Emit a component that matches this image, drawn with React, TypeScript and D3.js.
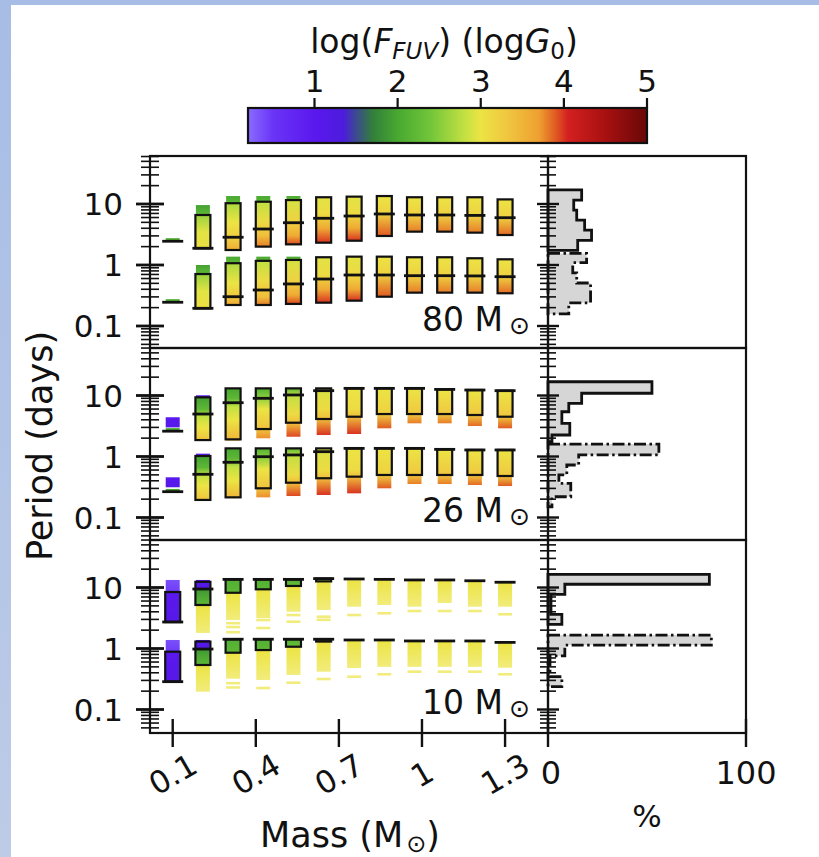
import React from 'react';
import * as d3 from 'd3';

// [period, log F_FUV, opacity?]
type Stop = [number, number, number?];
// [strip top, strip bottom, box top, box bottom, median, colour stops]
type Column = [number, number, number | null, number | null, number, Stop[]];
// [mass index, period, log F_FUV, opacity]
type Extra = [number, number, number, number];

const MASSES = [0.1, 0.209, 0.318, 0.427, 0.536, 0.645, 0.755, 0.864, 0.973, 1.082, 1.191, 1.3];
const MASS_TICKS = [0.1, 0.4, 0.7, 1, 1.3];
const MASS_TICK_LABELS = ['0.1', '0.4', '0.7', '1', '1.3'];
const PCT_TICKS = [0, 100];
const CBAR_TICKS = [1, 2, 3, 4, 5];
const PERIOD_TICKS = [0.1, 1, 10];
const PERIOD_TICK_LABELS = ['0.1', '1', '10'];
const CLUSTER_MASSES = ['80', '26', '10'];

// colour map of log F_FUV (log G0)
const CMAP_VALUES = [0.2, 0.5, 1.0, 1.35, 1.5, 1.7, 2.0, 2.4, 2.8, 3.0, 3.3, 3.7, 3.9, 4.05, 4.5, 5.0];
const CMAP_COLORS = ['#8a6cff', '#6a34f6', '#5a18ee', '#4c1cdc', '#3c4a90', '#327f3a', '#48a830', '#72c63a',
  '#c2e042', '#ece444', '#f0c840', '#eea030', '#e05a22', '#d42020', '#a81010', '#680808'];

// 80 Msun cluster
const COLS_80_LONG: Column[] = [
  [2.75, 2.45, null, null, 2.45, [[2.75, 2.0], [2.45, 2.2]]],
  [9.6, 1.88, 6.6, 1.88, 1.88, [[9.6, 1.95], [6.9, 2.2], [6.5, 2.6], [3.5, 2.95], [1.88, 3.05]]],
  [13.5, 1.72, 10.3, 1.76, 2.85, [[13.5, 2.0], [10.5, 2.2], [10.0, 2.7], [5.0, 3.0], [2.5, 3.3], [1.72, 3.6]]],
  [13.5, 1.97, 10.9, 2.0, 3.89, [[13.5, 2.0], [11.0, 2.2], [10.5, 2.8], [5.0, 3.1], [3.0, 3.4], [1.97, 3.8]]],
  [13.5, 2.13, 11.6, 2.18, 4.93, [[13.5, 2.0], [11.8, 2.2], [11.3, 2.9], [5.0, 3.2], [3.0, 3.6], [2.13, 3.95]]],
  [12.9, 2.32, 12.9, 2.32, 5.83, [[12.9, 2.95], [7.0, 3.1], [4.0, 3.6], [2.32, 4.0]]],
  [13.2, 2.5, 13.2, 2.5, 6.35, [[13.2, 2.95], [7.0, 3.1], [4.0, 3.6], [2.5, 4.0]]],
  [13.5, 2.99, 13.5, 2.99, 6.86, [[13.5, 3.0], [7.0, 3.2], [2.99, 3.9]]],
  [12.9, 3.52, 12.9, 3.52, 6.6, [[12.9, 3.0], [6.6, 3.2], [3.52, 3.8]]],
  [12.9, 3.52, 12.9, 3.52, 6.6, [[12.9, 3.0], [6.6, 3.2], [3.52, 3.8]]],
  [12.9, 3.39, 12.9, 3.39, 6.5, [[12.9, 3.0], [6.5, 3.2], [3.39, 3.8]]],
  [11.9, 3.1, 11.9, 3.1, 5.96, [[11.9, 3.0], [6.0, 3.2], [3.1, 3.85]]],
];
const COLS_80_SHORT: Column[] = [
  [0.275, 0.245, null, null, 0.245, [[0.275, 2.0], [0.245, 2.2]]],
  [1.0, 0.195, 0.711, 0.195, 0.195, [[1.0, 1.95], [0.74, 2.2], [0.7, 2.6], [0.37, 2.95], [0.195, 3.05]]],
  [1.37, 0.221, 1.07, 0.221, 0.302, [[1.37, 2.0], [1.09, 2.2], [1.04, 2.7], [0.5, 3.0], [0.3, 3.3], [0.221, 3.6]]],
  [1.37, 0.221, 1.17, 0.221, 0.389, [[1.37, 2.0], [1.18, 2.2], [1.13, 2.8], [0.55, 3.1], [0.3, 3.4], [0.221, 3.8]]],
  [1.37, 0.23, 1.21, 0.23, 0.489, [[1.37, 2.0], [1.23, 2.2], [1.17, 2.9], [0.55, 3.2], [0.32, 3.6], [0.23, 3.95]]],
  [1.34, 0.241, 1.34, 0.241, 0.589, [[1.34, 2.95], [0.7, 3.1], [0.4, 3.6], [0.241, 4.0]]],
  [1.37, 0.26, 1.37, 0.26, 0.685, [[1.37, 2.95], [0.7, 3.1], [0.4, 3.6], [0.26, 4.0]]],
  [1.37, 0.302, 1.37, 0.302, 0.685, [[1.37, 3.0], [0.7, 3.2], [0.302, 3.9]]],
  [1.34, 0.352, 1.34, 0.352, 0.668, [[1.34, 3.0], [0.67, 3.2], [0.352, 3.8]]],
  [1.34, 0.352, 1.34, 0.352, 0.668, [[1.34, 3.0], [0.67, 3.2], [0.352, 3.8]]],
  [1.29, 0.352, 1.29, 0.352, 0.662, [[1.29, 3.0], [0.66, 3.2], [0.352, 3.8]]],
  [1.24, 0.344, 1.24, 0.344, 0.643, [[1.24, 3.0], [0.64, 3.2], [0.344, 3.85]]],
];
const EXTRA_80: Extra[] = [];

// 26 Msun cluster
const COLS_26_LONG: Column[] = [
  [4.4, 3.0, null, null, 2.6, [[4.4, 1.0], [3.0, 1.1]]],
  [9.33, 1.86, 9.33, 1.86, 4.97, [[9.33, 1.95], [6.0, 2.2], [4.5, 2.8], [3.0, 3.0], [1.86, 3.35]]],
  [13.1, 1.82, 13.1, 1.91, 7.62, [[13.1, 2.0], [9.0, 2.2], [6.5, 2.8], [4.0, 3.0], [1.82, 3.5]]],
  [13.1, 1.99, 13.1, 2.82, 9.0, [[13.1, 2.1], [9.5, 2.5], [6.0, 3.0], [2.8, 3.35], [1.99, 3.75]]],
  [13.1, 2.11, 13.1, 3.58, 10.2, [[13.1, 2.2], [10.0, 2.8], [5.0, 3.1], [3.5, 3.4], [2.11, 3.95]]],
  [13.1, 2.25, 13.1, 4.12, 12.0, [[13.1, 2.9], [6.0, 3.1], [4.1, 3.4], [2.25, 4.0]]],
  [13.1, 2.34, 13.1, 4.49, 13.1, [[13.1, 3.0], [6.0, 3.1], [4.5, 3.4], [2.34, 4.0]]],
  [13.1, 2.9, 13.1, 4.97, 13.1, [[13.1, 3.0], [5.0, 3.2], [2.9, 3.9]]],
  [13.1, 3.5, 13.1, 4.97, 13.1, [[13.1, 3.0], [5.0, 3.3], [3.5, 3.8]]],
  [12.6, 3.5, 12.6, 4.97, 12.6, [[12.6, 3.0], [5.0, 3.3], [3.5, 3.8]]],
  [12.3, 3.16, 12.3, 4.79, 12.3, [[12.3, 3.0], [4.8, 3.3], [3.16, 3.85]]],
  [12.0, 2.9, 12.0, 4.49, 12.0, [[12.0, 3.0], [4.5, 3.3], [2.9, 3.9]]],
];
const COLS_26_SHORT: Column[] = [
  [0.456, 0.313, null, null, 0.265, [[0.456, 1.0], [0.313, 1.1]]],
  [1.02, 0.194, 1.02, 0.194, 0.511, [[1.02, 1.95], [0.66, 2.2], [0.5, 2.8], [0.33, 3.0], [0.194, 3.35]]],
  [1.36, 0.208, 1.36, 0.214, 0.804, [[1.36, 2.0], [0.93, 2.2], [0.68, 2.8], [0.4, 3.0], [0.208, 3.5]]],
  [1.36, 0.214, 1.36, 0.301, 0.993, [[1.36, 2.1], [0.98, 2.5], [0.62, 3.0], [0.3, 3.35], [0.214, 3.75]]],
  [1.36, 0.225, 1.36, 0.372, 1.06, [[1.36, 2.2], [1.03, 2.8], [0.5, 3.1], [0.37, 3.4], [0.225, 3.95]]],
  [1.36, 0.234, 1.36, 0.44, 1.2, [[1.36, 2.9], [0.6, 3.1], [0.44, 3.4], [0.234, 4.0]]],
  [1.36, 0.249, 1.36, 0.467, 1.36, [[1.36, 3.0], [0.6, 3.1], [0.467, 3.4], [0.249, 4.0]]],
  [1.36, 0.301, 1.36, 0.498, 1.36, [[1.36, 3.0], [0.5, 3.2], [0.301, 3.9]]],
  [1.36, 0.354, 1.36, 0.498, 1.36, [[1.36, 3.0], [0.5, 3.3], [0.354, 3.8]]],
  [1.31, 0.354, 1.31, 0.498, 1.31, [[1.31, 3.0], [0.5, 3.3], [0.354, 3.8]]],
  [1.28, 0.341, 1.28, 0.498, 1.28, [[1.28, 3.0], [0.5, 3.3], [0.341, 3.85]]],
  [1.28, 0.328, 1.28, 0.479, 1.28, [[1.28, 3.0], [0.48, 3.3], [0.328, 3.9]]],
];
const EXTRA_26: Extra[] = [
  [0, 2.78, 2.0, 1], [0, 0.28, 2.0, 1], [1, 9.6, 1.0, 1], [1, 1.06, 1.0, 1],
];

// 10 Msun cluster
const COLS_10_LONG: Column[] = [
  [13.3, 2.72, 8.44, 2.72, 2.72, [[13.3, 0.35], [8.6, 0.45], [8.2, 1.0], [2.72, 1.1]]],
  [13.3, 1.8, 12.4, 5.17, 9.45, [[13.3, 1.0], [10.0, 1.2], [9.0, 1.9], [5.3, 2.2], [4.9, 3.0], [1.8, 3.0, 0.7]]],
  [13.6, 2.93, 13.6, 8.2, 13.6, [[13.6, 2.1], [8.3, 2.2], [7.9, 3.0], [2.93, 3.0, 0.7]]],
  [13.6, 3.16, 13.6, 9.34, 13.6, [[13.6, 2.1], [9.4, 2.2], [9.0, 3.0], [3.16, 3.0, 0.7]]],
  [13.6, 4.01, 13.6, 10.6, 13.6, [[13.6, 2.1], [10.6, 2.3], [10.2, 3.0], [4.01, 3.0, 0.7]]],
  [14.0, 4.28, 14.0, 12.6, 14.0, [[14.0, 2.4], [12.6, 2.6], [12.2, 3.0], [4.28, 3.0, 0.7]]],
  [13.2, 4.84, null, null, 13.8, [[13.2, 3.0], [4.84, 3.0, 0.7]]],
  [13.2, 5.17, null, null, 13.6, [[13.2, 3.0], [5.17, 3.0, 0.7]]],
  [13.0, 4.84, null, null, 13.3, [[13.0, 3.0], [4.84, 3.0, 0.7]]],
  [13.0, 5.57, null, null, 13.3, [[13.0, 3.0], [5.57, 3.0, 0.7]]],
  [12.6, 4.84, null, null, 12.9, [[12.6, 3.0], [4.84, 3.0, 0.7]]],
  [12.0, 4.84, null, null, 12.2, [[12.0, 3.0], [4.84, 3.0, 0.7]]],
];
const COLS_10_SHORT: Column[] = [
  [1.38, 0.286, 0.887, 0.286, 0.286, [[1.38, 0.35], [0.92, 0.45], [0.87, 1.0], [0.286, 1.1]]],
  [1.38, 0.196, 1.3, 0.537, 0.98, [[1.38, 1.0], [1.03, 1.2], [0.95, 1.9], [0.55, 2.2], [0.51, 3.0], [0.196, 3.0, 0.7]]],
  [1.42, 0.32, 1.42, 0.853, 1.42, [[1.42, 2.1], [0.87, 2.2], [0.83, 3.0], [0.32, 3.0, 0.7]]],
  [1.42, 0.305, 1.42, 0.944, 1.42, [[1.42, 2.1], [0.96, 2.2], [0.92, 3.0], [0.305, 3.0, 0.7]]],
  [1.42, 0.368, 1.42, 1.07, 1.42, [[1.42, 2.1], [1.08, 2.3], [1.04, 3.0], [0.368, 3.0, 0.7]]],
  [1.42, 0.417, 1.42, 1.3, 1.42, [[1.42, 2.4], [1.3, 2.6], [1.26, 3.0], [0.417, 3.0, 0.7]]],
  [1.35, 0.479, null, null, 1.38, [[1.35, 3.0], [0.479, 3.0, 0.7]]],
  [1.35, 0.5, null, null, 1.38, [[1.35, 3.0], [0.5, 3.0, 0.7]]],
  [1.3, 0.5, null, null, 1.33, [[1.3, 3.0], [0.5, 3.0, 0.7]]],
  [1.3, 0.5, null, null, 1.33, [[1.3, 3.0], [0.5, 3.0, 0.7]]],
  [1.3, 0.5, null, null, 1.33, [[1.3, 3.0], [0.5, 3.0, 0.7]]],
  [1.24, 0.484, null, null, 1.26, [[1.24, 3.0], [0.484, 3.0, 0.7]]],
];
const EXTRA_10: Extra[] = [
  [2, 2.6, 3.0, 0.7], [2, 2.25, 3.0, 0.7], [2, 1.85, 3.0, 0.7], [3, 2.93, 3.0, 0.7], [3, 2.17, 3.0, 0.7],
  [4, 3.54, 3.0, 0.7], [4, 2.75, 3.0, 0.7], [5, 3.32, 3.0, 0.7], [5, 2.95, 3.0, 0.7], [6, 3.54, 3.0, 0.7],
  [7, 3.78, 3.0, 0.7], [8, 4.12, 3.0, 0.7], [9, 4.12, 3.0, 0.7], [10, 4.12, 3.0, 0.7], [11, 3.64, 3.0, 0.7],
  [2, 0.27, 3.0, 0.7], [2, 0.23, 3.0, 0.7], [3, 0.225, 3.0, 0.7], [4, 0.275, 3.0, 0.7], [5, 0.316, 3.0, 0.7],
  [6, 0.345, 3.0, 0.7], [7, 0.378, 3.0, 0.7], [8, 0.417, 3.0, 0.7], [9, 0.417, 3.0, 0.7], [10, 0.417, 3.0, 0.7],
  [11, 0.378, 3.0, 0.7],
];

// period histograms: bin edges (days) and share of stars (%)
const H80_LONG_EDGES = [17.0, 11.6, 7.94, 5.43, 3.72, 2.54, 1.74];
const H80_LONG_PCT = [17, 13, 14.5, 18.5, 22, 15];
const H80_SHORT_EDGES = [1.55, 1.09, 0.741, 0.507, 0.347, 0.24, 0.158];
const H80_SHORT_PCT = [19.5, 12.5, 14.5, 21.5, 21.5, 10.5];
const H26_LONG_EDGES = [16.8, 10.9, 7.45, 5.42, 3.5, 2.25, 1.75];
const H26_LONG_PCT = [52.5, 17, 10.5, 7, 11, 2];
const H26_SHORT_EDGES = [1.6, 1.06, 0.726, 0.498, 0.363, 0.219, 0.15];
const H26_SHORT_PCT = [56, 15.5, 9.5, 5.5, 11.5, 2];
const H10_LONG_EDGES = [16.4, 11.3, 7.74, 5.31, 3.64, 2.49];
const H10_LONG_PCT = [81.5, 8.5, 1.5, 1.5, 7];
const H10_SHORT_EDGES = [1.66, 1.14, 0.759, 0.513, 0.347, 0.237];
const H10_SHORT_PCT = [82.5, 8.5, 1, 1, 7];

// period axis limits per panel (days)
const YLIMS: [number, number][] = [[0.04358, 61.2], [0.04277, 60.1], [0.0412, 60.1]];

const PANELS = [
  { name: CLUSTER_MASSES[0], long: COLS_80_LONG, short: COLS_80_SHORT, extra: EXTRA_80,
    hl: [H80_LONG_EDGES, H80_LONG_PCT], hs: [H80_SHORT_EDGES, H80_SHORT_PCT] },
  { name: CLUSTER_MASSES[1], long: COLS_26_LONG, short: COLS_26_SHORT, extra: EXTRA_26,
    hl: [H26_LONG_EDGES, H26_LONG_PCT], hs: [H26_SHORT_EDGES, H26_SHORT_PCT] },
  { name: CLUSTER_MASSES[2], long: COLS_10_LONG, short: COLS_10_SHORT, extra: EXTRA_10,
    hl: [H10_LONG_EDGES, H10_LONG_PCT], hs: [H10_SHORT_EDGES, H10_SHORT_PCT] },
];

// layout
const W = 819;
const H = 857;
const AX_X0 = 150;
const AX_X1 = 548;
const HX1 = 746;
const ROWS: [number, number][] = [[156, 348], [348, 540], [540, 733]];
const LABEL_BASE = [331, 522, 714];
const CB = { x0: 248, x1: 647, y0: 108, y1: 143 };
const FONT = 'DejaVu Sans';
const INK = '#111';
const TICK_FS = 31;

const colour = d3.scaleLinear<string>().domain(CMAP_VALUES).range(CMAP_COLORS)
  .interpolate(d3.interpolateRgb).clamp(true);
const xMass = d3.scaleLinear().domain([0.018, 1.455]).range([AX_X0, AX_X1]);
const xPct = d3.scaleLinear().domain([0, 100]).range([AX_X1, HX1]);
const xCbar = d3.scaleLinear().domain([0.2, 5]).range([CB.x0, CB.x1]);

const STRIP_W = 14;
const BOX_W = 15;
const MED_W = 21;

function histPath(edges: number[], pct: number[], y: d3.ScaleLogarithmic<number, number>) {
  const p = d3.path();
  p.moveTo(xPct(0), y(edges[0]));
  pct.forEach((v, i) => {
    p.lineTo(xPct(v), y(edges[i]));
    p.lineTo(xPct(v), y(edges[i + 1]));
  });
  p.lineTo(xPct(0), y(edges[edges.length - 1]));
  p.closePath();
  return p.toString();
}

function Columns({ cols, y, id }: { cols: Column[]; y: d3.ScaleLogarithmic<number, number>; id: string }) {
  return (
    <g>
      <defs>
        {cols.map((c, i) => {
          const y0 = y(c[0]);
          const y1 = y(c[1]);
          return (
            <linearGradient key={i} id={`${id}-${i}`} gradientUnits="userSpaceOnUse" x1={0} x2={0} y1={y0} y2={y1}>
              {c[5].map((s, j) => (
                <stop key={j} offset={Math.max(0, Math.min(1, (y(s[0]) - y0) / (y1 - y0)))}
                  stopColor={colour(s[1])} stopOpacity={s[2] ?? 1} />
              ))}
            </linearGradient>
          );
        })}
      </defs>
      {cols.map((c, i) => {
        const x = xMass(MASSES[i]);
        const y0 = y(c[0]);
        const y1 = y(c[1]);
        return (
          <rect key={i} x={x - STRIP_W / 2} y={y0} width={STRIP_W} height={Math.max(2.5, y1 - y0)}
            fill={`url(#${id}-${i})`} />
        );
      })}
    </g>
  );
}

function Boxes({ cols, y }: { cols: Column[]; y: d3.ScaleLogarithmic<number, number> }) {
  return (
    <g>
      {cols.map((c, i) => {
        const x = xMass(MASSES[i]);
        return (
          <g key={i}>
            {c[2] !== null && c[3] !== null && (
              <rect x={x - BOX_W / 2} y={y(c[2])} width={BOX_W} height={y(c[3]) - y(c[2])}
                fill="none" stroke={INK} strokeWidth={2.2} />
            )}
            <line x1={x - MED_W / 2} x2={x + MED_W / 2} y1={y(c[4])} y2={y(c[4])} stroke={INK} strokeWidth={2.8} />
          </g>
        );
      })}
    </g>
  );
}

function Panel({ idx }: { idx: number }) {
  const [top, bot] = ROWS[idx];
  const P = PANELS[idx];
  const y = d3.scaleLog().domain([YLIMS[idx][1], YLIMS[idx][0]]).range([top, bot]);
  const ticks = y.ticks();
  const isMajor = (v: number) => Math.abs(Math.log10(v) - Math.round(Math.log10(v))) < 1e-6;
  const last = idx === ROWS.length - 1;
  return (
    <g>
      <Columns cols={P.long} y={y} id={`g${idx}l`} />
      <Columns cols={P.short} y={y} id={`g${idx}s`} />
      {P.extra.map((e, i) => (
        <rect key={i} x={xMass(MASSES[e[0]]) - STRIP_W / 2} y={y(e[1]) - 1.3} width={STRIP_W} height={2.6}
          fill={colour(e[2])} opacity={e[3]} />
      ))}
      <Boxes cols={P.long} y={y} />
      <Boxes cols={P.short} y={y} />

      {/* period distributions */}
      <path d={histPath(P.hl[0], P.hl[1], y)} fill="#d6d6d6" stroke={INK} strokeWidth={2.8} />
      <path d={histPath(P.hs[0], P.hs[1], y)} fill="#d6d6d6" stroke={INK} strokeWidth={2.8}
        strokeDasharray="12 3.5 2.5 3.5" />

      <rect x={AX_X0} y={top} width={AX_X1 - AX_X0} height={bot - top} fill="none" stroke={INK} strokeWidth={2.2} />
      <rect x={AX_X1} y={top} width={HX1 - AX_X1} height={bot - top} fill="none" stroke={INK} strokeWidth={2.2} />

      {ticks.map((v, i) => {
        const major = isMajor(v);
        const yy = y(v);
        return (
          <g key={i}>
            <line x1={AX_X0 - (major ? 14 : 9)} x2={AX_X0 + (major ? 14 : 9)} y1={yy} y2={yy}
              stroke={INK} strokeWidth={major ? 2.8 : 1.6} />
            <line x1={AX_X1 - (major ? 11 : 8)} x2={AX_X1 + (major ? 11 : 8)} y1={yy} y2={yy}
              stroke={INK} strokeWidth={major ? 2.4 : 1.6} />
          </g>
        );
      })}
      {PERIOD_TICKS.map((v, i) => (
        <text key={i} x={123} y={y(v)} dy="0.36em" textAnchor="end" fontSize={TICK_FS}>{PERIOD_TICK_LABELS[i]}</text>
      ))}

      <text x={530} y={LABEL_BASE[idx]} textAnchor="end" fontSize={33}>
        {P.name} M<tspan fontSize={25} dx={6} dy={3}>⊙</tspan>
      </text>

      {last && (
        <g>
          {MASS_TICKS.map((t, i) => (
            <g key={i}>
              <line x1={xMass(t)} x2={xMass(t)} y1={bot - 14} y2={bot + 14} stroke={INK} strokeWidth={2.4} />
              <text transform={`translate(${xMass(t)},774) rotate(-30)`} textAnchor="middle" dy="0.36em"
                fontSize={TICK_FS}>{MASS_TICK_LABELS[i]}</text>
            </g>
          ))}
          {PCT_TICKS.map((t, i) => (
            <g key={i}>
              <line x1={xPct(t)} x2={xPct(t)} y1={bot - 14} y2={bot + 14} stroke={INK} strokeWidth={2.4} />
              <text x={xPct(t) + (t === 0 ? 3 : 0)} y={784} textAnchor="middle" fontSize={32}>{t}</text>
            </g>
          ))}
        </g>
      )}
    </g>
  );
}

function Colorbar() {
  return (
    <g>
      <defs>
        <linearGradient id="cbar" x1={0} x2={1} y1={0} y2={0}>
          {CMAP_VALUES.map((v, i) => (
            <stop key={i} offset={(xCbar(v) - CB.x0) / (CB.x1 - CB.x0)} stopColor={CMAP_COLORS[i]} />
          ))}
        </linearGradient>
      </defs>
      <rect x={CB.x0} y={CB.y0} width={CB.x1 - CB.x0} height={CB.y1 - CB.y0} fill="url(#cbar)"
        stroke={INK} strokeWidth={2.2} />
      {CBAR_TICKS.map((t) => (
        <g key={t}>
          <line x1={xCbar(t)} x2={xCbar(t)} y1={CB.y0 - 10} y2={CB.y0} stroke={INK} strokeWidth={2.2} />
          <text x={xCbar(t)} y={92} textAnchor="middle" fontSize={31}>{t}</text>
        </g>
      ))}
      <text x={444} y={53} textAnchor="middle" fontSize={33}>
        log(<tspan fontStyle="italic">F</tspan>
        <tspan fontStyle="italic" fontSize={23} dy={6}>FUV</tspan>
        <tspan dy={-6}>) (log</tspan>
        <tspan fontStyle="italic">G</tspan>
        <tspan fontSize={23} dy={6}>0</tspan>
        <tspan dy={-6}>)</tspan>
      </text>
    </g>
  );
}

export default function App() {
  return (
    <svg width={W} height={H} viewBox={`0 0 ${W} ${H}`} fontFamily={FONT} fill={INK}
      style={{ position: 'absolute', left: 0, top: 0, display: 'block' }}>
      <defs>
        <linearGradient id="bg" x1={0} x2={0} y1={0} y2={1}>
          <stop offset={0} stopColor="#a7bde6" />
          <stop offset={1} stopColor="#bdcbe6" />
        </linearGradient>
      </defs>
      <rect width={W} height={H} fill="url(#bg)" />
      <rect x={11} y={5} width={W - 11} height={H - 5} fill="#fff" />

      <Colorbar />
      {ROWS.map((_, i) => <Panel key={i} idx={i} />)}

      <text transform="translate(52,446) rotate(-90)" textAnchor="middle" fontSize={35}>Period (days)</text>
      <text x={350} y={847} textAnchor="middle" fontSize={35}>
        Mass (M<tspan fontSize={24} dx={3} dy={5}>⊙</tspan><tspan dy={-5}>)</tspan>
      </text>
      <text x={647} y={827} textAnchor="middle" fontSize={31}>%</text>
    </svg>
  );
}
